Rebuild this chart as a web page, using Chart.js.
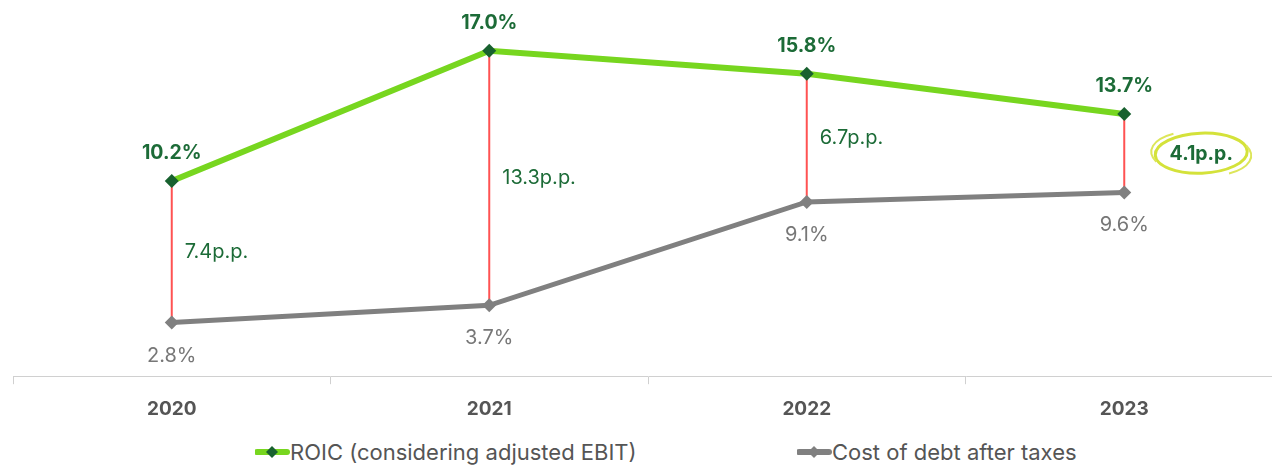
<!DOCTYPE html>
<html><head><meta charset="utf-8">
<script src="https://cdn.jsdelivr.net/npm/chart.js@4/dist/chart.umd.min.js"></script>
<style>
html,body{margin:0;padding:0;background:#fff;overflow:hidden;width:1272px;height:465px;}
#wrap{position:absolute;left:0;top:0;width:1283px;height:435px;}
#legend{position:absolute;top:439px;left:0;width:1272px;height:28px;font-family:Inter,sans-serif;font-size:22px;color:#555;}
.li{position:absolute;top:0;display:flex;align-items:center;white-space:nowrap;}
</style></head><body>
<div id="wrap"><canvas id="c"></canvas></div>
<div id="legend">
 <div class="li" style="left:255px"><svg width="35" height="14"><line x1="2" y1="7" x2="32" y2="7" stroke="#77d61f" stroke-width="6" stroke-linecap="round"/><path d="M17 1 L23 7 L17 13 L11 7Z" fill="#18612f"/></svg><span>ROIC (considering adjusted EBIT)</span></div>
 <div class="li" style="left:797px"><svg width="35" height="14"><line x1="2" y1="7" x2="32" y2="7" stroke="#808080" stroke-width="6" stroke-linecap="round"/><path d="M17 1 L23 7 L17 13 L11 7Z" fill="#808080"/></svg><span>Cost of debt after taxes</span></div>
</div>
<script>
const categories = ['2020','2021','2022','2023'];
const roic = [10.2, 17.0, 15.8, 13.7];
const costOfDebt = [2.8, 3.7, 9.1, 9.6];
const roicLabels = ['10.2%','17.0%','15.8%','13.7%'];
const costLabels = ['2.8%','3.7%','9.1%','9.6%'];
const spreadLabels = ['7.4p.p.','13.3p.p.','6.7p.p.','4.1p.p.'];

const FONT = 'Inter, sans-serif';
const overlay = {
  id:'overlay',
  beforeDatasetsDraw(chart){
    const ctx=chart.ctx, x=chart.scales.x, y=chart.scales.y;
    ctx.save();
    ctx.strokeStyle='#ff5252'; ctx.lineWidth=2;
    categories.forEach((c,i)=>{
      const px=x.getPixelForValue(i);
      ctx.beginPath(); ctx.moveTo(px,y.getPixelForValue(roic[i])); ctx.lineTo(px,y.getPixelForValue(costOfDebt[i])); ctx.stroke();
    });
    ctx.restore();
  },
  afterDatasetsDraw(chart){
    const ctx=chart.ctx, x=chart.scales.x, y=chart.scales.y;
    ctx.save();
    ctx.textAlign='center'; ctx.textBaseline='middle';
    categories.forEach((c,i)=>{
      const px=x.getPixelForValue(i);
      const yr=y.getPixelForValue(roic[i]), yc=y.getPixelForValue(costOfDebt[i]);
      ctx.font='bold 19.5px '+FONT; ctx.fillStyle='#1c6b37';
      ctx.fillText(roicLabels[i], px, yr-28);
      ctx.font='20px '+FONT; ctx.fillStyle='#777777';
      ctx.fillText(costLabels[i], px, yc+33);
      const mid=(yr+yc)/2;
      ctx.fillStyle='#1c6b37';
      if(i===categories.length-1){
        const cx=px+77;
        ctx.font='bold 19.5px '+FONT; ctx.textAlign='center';
        ctx.fillText(spreadLabels[i], cx, mid+1);
        ctx.strokeStyle='#d4e23a'; ctx.lineWidth=3;
        ctx.beginPath(); ctx.ellipse(cx,mid,46,20,-0.04,0,Math.PI*2); ctx.stroke();
        ctx.lineWidth=2; ctx.strokeStyle='#dde65a';
        ctx.beginPath(); ctx.ellipse(cx+1,mid+1,51,23,0.06,Math.PI*0.85,Math.PI*1.3); ctx.stroke();
        ctx.beginPath(); ctx.ellipse(cx-1,mid,51,23,0.06,Math.PI*1.85,Math.PI*2.3); ctx.stroke();
        ctx.textAlign='center';
      } else {
        ctx.font='20px '+FONT; ctx.textAlign='left';
        ctx.fillText(spreadLabels[i], px+13, mid);
        ctx.textAlign='center';
      }
    });
    ctx.restore();
  }
};

new Chart(document.getElementById('c'),{
  type:'line',
  data:{labels:categories,datasets:[
    {label:'ROIC (considering adjusted EBIT)',data:roic,borderColor:'#77d61f',borderWidth:6,pointStyle:'rectRot',pointRadius:7,pointBackgroundColor:'#18612f',pointBorderColor:'#18612f',pointBorderWidth:0,tension:0},
    {label:'Cost of debt after taxes',data:costOfDebt,borderColor:'#808080',borderWidth:5,pointStyle:'rectRot',pointRadius:7,pointBackgroundColor:'#808080',pointBorderColor:'#808080',pointBorderWidth:0,tension:0}
  ]},
  options:{
    responsive:true,maintainAspectRatio:false,animation:false,
    layout:{autoPadding:false,padding:{left:13,right:0,top:0,bottom:0}},
    plugins:{legend:{display:false},tooltip:{enabled:false}},
    scales:{
      y:{display:false,min:0,max:19.65},
      x:{offset:true,
        grid:{offset:true,drawOnChartArea:false,drawTicks:true,tickLength:8,color:'#d0d0d0',lineWidth:1},
        border:{color:'#d0d0d0',width:1},
        ticks:{color:'#555',font:{family:FONT,size:19,weight:'bold'},padding:14}}
    }
  },
  plugins:[overlay]
});
</script>
</body></html>
